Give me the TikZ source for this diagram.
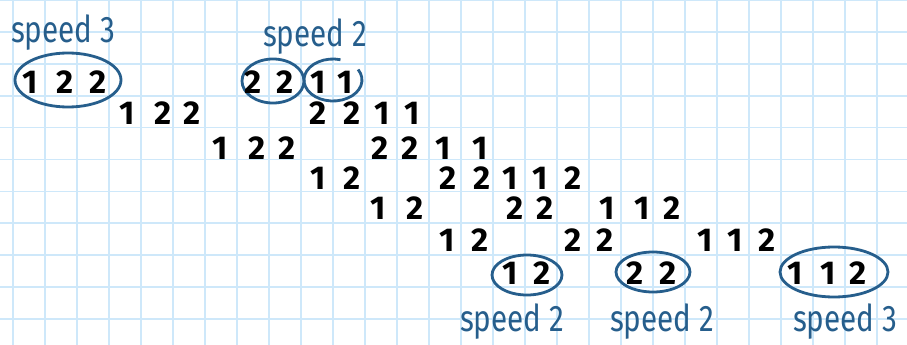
\documentclass[tikz,border=0pt]{standalone}
\usepackage{fontspec}
\setmainfont{Fira Sans}
\usetikzlibrary{shapes.geometric}
\definecolor{gridc}{RGB}{206,232,250}
\definecolor{inkblue}{RGB}{38,94,140}
\begin{document}
\begin{tikzpicture}[x=1pt,y=-1pt,
  dig/.style={font=\fontsize{33}{33}\selectfont\bfseries, inner sep=0pt, anchor=center},
  lab/.style={text=inkblue, font=\fontsize{37}{37}\selectfont, inner sep=0pt},
  ring/.style={draw=inkblue, line width=2.8pt, ellipse, inner sep=0pt},
  gridline/.style={gridc, line width=1.7pt}]
\useasboundingbox (0,0) rectangle (907,345);
\fill[white] (0,0) rectangle (907,345);
\foreach \k in {0,...,27} \draw[gridline] (13.3+32*\k,0) -- (13.3+32*\k,345);
\foreach \k in {0,...,10} \draw[gridline] (0,31.9*\k) -- (907,31.9*\k);

% rings
\node[ring, minimum width=106, minimum height=54] (e1) at (68,80) {};
\node[ring, minimum width=62, minimum height=44] (e2) at (273,81) {};
\coordinate (e3) at (333,80);
\draw[inkblue, line width=2.8pt] (358.1,69.5) arc[start angle=-30, end angle=285, x radius=29, y radius=21];
\node[ring, minimum width=70, minimum height=40] (e4) at (527,275) {};
\node[ring, minimum width=74, minimum height=40] (e5) at (653,272) {};
\node[ring, minimum width=108, minimum height=50] (e6) at (834,272) {};

% digits
\foreach \x/\d [count=\i] in {30/1,65/2,98/2,253/2,285/2,318/1,345/1}
  \node[dig] (a\i) at (\x,82) {\d};
\foreach \x/\d [count=\i] in {127/1,163/2,192/2,318/2,352/2,382/1,412/1}
  \node[dig] (b\i) at (\x,113) {\d};
\foreach \x/\d [count=\i] in {220/1,257/2,287/2,380/2,410/2,443/1,480/1}
  \node[dig] (c\i) at (\x,148) {\d};
\foreach \x/\d [count=\i] in {318/1,352/2,448/2,482/2,510/1,540/1,573/2}
  \node[dig] (d\i) at (\x,178) {\d};
\foreach \x/\d [count=\i] in {378/1,415/2,515/2,545/2,607/1,642/1,672/2}
  \node[dig] (f\i) at (\x,208) {\d};
\foreach \x/\d [count=\i] in {447/1,480/2,573/2,605/2,705/1,735/1,767/2}
  \node[dig] (g\i) at (\x,240) {\d};
\foreach \x/\d [count=\i] in {510/1,542/2,635/2,668/2,795/1,828/1,858/2}
  \node[dig] (h\i) at (\x,273) {\d};

% labels
\node[lab] (s1) at (63,33) {\scalebox{0.8}[1]{speed 3}};
\node[lab] (s2) at (315,37) {\scalebox{0.8}[1]{speed 2}};
\node[lab] (s3) at (512,322) {\scalebox{0.8}[1]{speed 2}};
\node[lab] (s4) at (662,322) {\scalebox{0.8}[1]{speed 2}};
\node[lab] (s5) at (845,322) {\scalebox{0.8}[1]{speed 3}};
\end{tikzpicture}
\end{document}
